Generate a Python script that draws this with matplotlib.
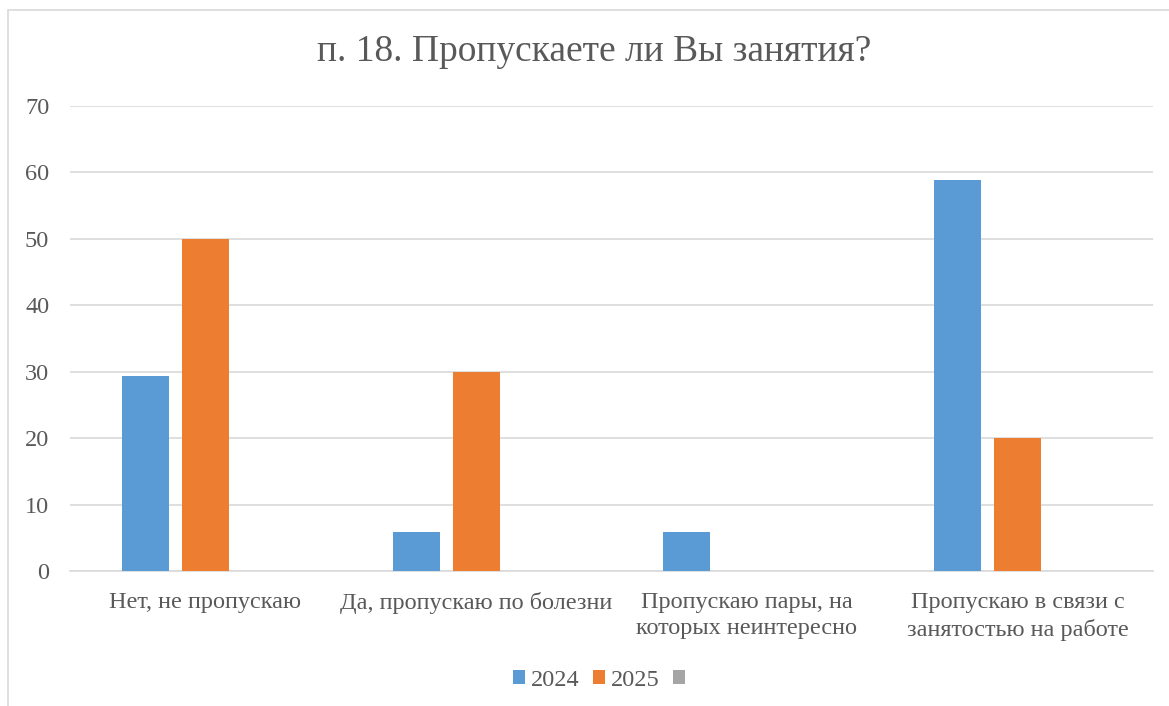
import numpy as np
import matplotlib
matplotlib.use("Agg")
import matplotlib.pyplot as plt
from matplotlib.patches import Rectangle, Patch

categories = ["Нет, не пропускаю", "Да, пропускаю по болезни",
              "Пропускаю пары, на\nкоторых неинтересно",
              "Пропускаю в связи с\nзанятостью на работе"]
series_names = ["2024", "2025", " "]
values_2024 = [29.4, 5.9, 5.9, 58.8]
values_2025 = [50.0, 30.0, 0.0, 20.0]
values_3 = [np.nan, np.nan, np.nan, np.nan]
colors = ["#5B9BD5", "#ED7D31", "#A5A5A5"]
title = "п. 18. Пропускаете ли Вы занятия?"
yticks = [0, 10, 20, 30, 40, 50, 60, 70]

plt.rcParams['font.family'] = ['Liberation Serif', 'DejaVu Serif']
text_color = "#595959"
fs = 17.5

fig = plt.figure(figsize=(11.69, 7.06), dpi=100)
fig.patches.append(Rectangle((8/1169, -0.1), 1.2, 1 - 10/706 + 0.1, transform=fig.transFigure,
                             fill=False, edgecolor="#D9D9D9", linewidth=1.2, zorder=0))
ax = fig.add_axes([70/1169, 1 - 571/706, (1153-70)/1169, (571-106)/706])

x = np.arange(len(categories))
w = 0.1736
off = 0.2216
all_vals = [values_2024, values_2025, values_3]
for k, (vals, c, name) in enumerate(zip(all_vals, colors, series_names)):
    ax.bar(x + (k - 1) * off, vals, width=w, color=c, label=name, zorder=3)

ax.set_xlim(-0.5, len(categories) - 0.5)
ax.set_ylim(0, 70)
ax.set_yticks(yticks)
ax.set_yticklabels([str(t) for t in yticks], fontsize=fs, color=text_color)
ax.set_xticks(x)
ax.set_xticklabels(categories, fontsize=fs, color=text_color, linespacing=1.35)
ax.tick_params(axis='both', length=0)
ax.tick_params(axis='y', pad=15)
ax.tick_params(axis='x', pad=15)
ax.grid(axis='y', color="#D9D9D9", linewidth=1.2, zorder=0)
for s in ["top", "right", "left"]:
    ax.spines[s].set_visible(False)
ax.spines["bottom"].set_color("#D9D9D9")
ax.spines["bottom"].set_linewidth(1.2)

fig.text(594/1169, 1 - 52/706, title, ha="center", va="center", fontsize=27, color=text_color)

handles = [Patch(facecolor=c, edgecolor='none') for c in colors]
fig.legend(handles, series_names, loc="center", bbox_to_anchor=(605/1169, 1 - 680/706),
           ncol=3, frameon=False, fontsize=fs, labelcolor=text_color,
           handlelength=0.5, handleheight=0.5, handletextpad=0.25, columnspacing=0.55)

fig.savefig("out.png", dpi=100)
